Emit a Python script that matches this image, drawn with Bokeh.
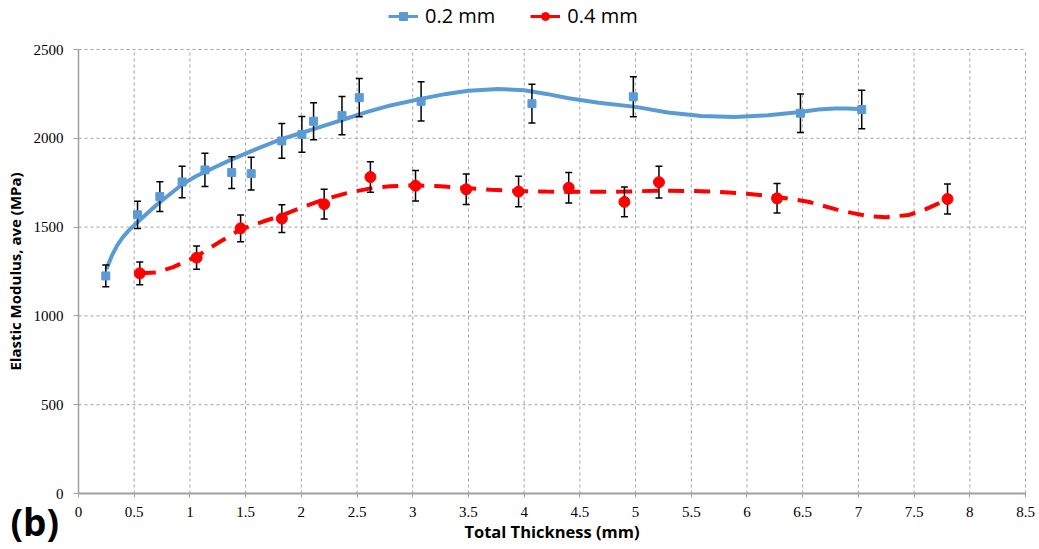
from bokeh.plotting import figure
from bokeh.models import Range1d, Legend, LegendItem, Label, ColumnDataSource, FixedTicker
from bokeh.embed import file_html
from bokeh.resources import INLINE

# ---- data ----
x02 = [0.245, 0.53, 0.73, 0.93, 1.135, 1.375, 1.55, 1.825, 2.005, 2.11, 2.365, 2.52, 3.075, 4.07, 4.98, 6.48, 7.03]
y02 = [1225, 1569, 1672, 1754, 1822, 1807, 1801, 1985, 2022, 2096, 2128, 2229, 2208, 2195, 2234, 2141, 2162]
e02 = [61, 77, 84, 89, 94, 89, 92, 98, 101, 104, 108, 108, 110, 109, 112, 108, 108]

x04 = [0.55, 1.06, 1.455, 1.825, 2.205, 2.62, 3.025, 3.48, 3.95, 4.4, 4.9, 5.21, 6.27, 7.8]
y04 = [1240, 1328, 1493, 1548, 1629, 1782, 1733, 1713, 1700, 1722, 1642, 1753, 1662, 1658]
e04 = [64, 66, 75, 78, 84, 86, 86, 86, 86, 86, 84, 89, 83, 84]

# trend curves
tx02 = [0.25, 0.3, 0.35, 0.4, 0.45, 0.5, 0.6, 0.7, 0.8, 0.93, 1.05, 1.2, 1.37, 1.6, 1.82, 2.0, 2.2, 2.4,
        2.6, 2.8, 3.07, 3.3, 3.5, 3.77, 4.0, 4.2, 4.4, 4.67, 5.0, 5.29, 5.59, 5.89, 6.19, 6.48, 6.64, 6.79, 6.9, 7.03]
ty02 = [1262, 1340, 1400, 1445, 1480, 1510, 1568, 1625, 1675, 1740, 1785, 1830, 1880, 1940, 1995, 2030, 2070, 2110,
        2150, 2185, 2222, 2250, 2268, 2278, 2270, 2250, 2226, 2200, 2177, 2145, 2125, 2120, 2130, 2148, 2162, 2168, 2168, 2163]

tx04 = [0.55, 0.7, 0.85, 1.06, 1.25, 1.45, 1.65, 1.82, 2.0, 2.2, 2.4, 2.62, 2.8, 3.02, 3.25, 3.48, 3.7, 3.95,
        4.2, 4.4, 4.65, 4.9, 5.21, 5.5, 5.74, 6.0, 6.27, 6.55, 6.8, 6.94, 7.1, 7.25, 7.45, 7.6, 7.7, 7.8]
ty04 = [1240, 1245, 1275, 1335, 1410, 1485, 1530, 1565, 1610, 1655, 1690, 1718, 1730, 1735, 1730, 1720, 1710, 1703,
        1700, 1698, 1699, 1700, 1705, 1703, 1699, 1688, 1670, 1643, 1600, 1580, 1560, 1556, 1568, 1600, 1628, 1656]

x_ticks = [0, 0.5, 1, 1.5, 2, 2.5, 3, 3.5, 4, 4.5, 5, 5.5, 6, 6.5, 7, 7.5, 8, 8.5]
y_ticks = [0, 500, 1000, 1500, 2000, 2500]
X_MIN, X_MAX = 0, 8.5
Y_MIN, Y_MAX = 0, 2500

BLUE = "#5B9BD5"
RED = "#FF0000"
GRID = "#A0A0A0"
NAN = float("nan")

# the frame covers the whole canvas; axes are pinned at the data origin so
# the legend and the panel letter can sit outside the data area without clipping
W, H = 1035, 546
FL, FR, FT, FB = 78, 1025, 49, 493          # data-area edges in canvas pixels
px_x = (FR - FL) / (X_MAX - X_MIN)
px_y = (FB - FT) / (Y_MAX - Y_MIN)
x_rng = Range1d(X_MIN - FL / px_x, X_MAX + (W - FR) / px_x)
y_rng = Range1d(Y_MIN - (H - FB) / px_y, Y_MAX + FT / px_y)

p = figure(width=W, height=H, output_backend="svg", toolbar_location=None,
           x_range=x_rng, y_range=y_rng, min_border=0)
p.outline_line_color = None
p.background_fill_color = "white"
p.xgrid.visible = False
p.ygrid.visible = False

# dashed grid bounded to the data area
p.segment(x0=x_ticks[1:], y0=Y_MIN, x1=x_ticks[1:], y1=Y_MAX, line_color=GRID, line_dash="3 3", line_width=1)
p.segment(x0=X_MIN, y0=y_ticks[1:], x1=X_MAX, y1=y_ticks[1:], line_color=GRID, line_dash="3 3", line_width=1)

p.xaxis.ticker = FixedTicker(ticks=x_ticks)
p.yaxis.ticker = FixedTicker(ticks=y_ticks)
p.xaxis.fixed_location = Y_MIN
p.yaxis.fixed_location = X_MIN
p.xaxis.bounds = (X_MIN, X_MAX)
p.yaxis.bounds = (Y_MIN, Y_MAX)

for ax in (p.xaxis, p.yaxis):
    ax.axis_line_color = GRID
    ax.axis_line_width = 1.5
    ax.major_tick_line_color = GRID
    ax.major_tick_out = 5
    ax.major_tick_in = 0
    ax.minor_tick_line_color = None
    ax.major_label_text_font = "Liberation Serif"
    ax.major_label_text_font_size = "15px"
    ax.major_label_text_color = "black"
    ax.axis_label_text_font = "Open Sans"
    ax.axis_label_text_font_style = "bold"
    ax.axis_label_text_font_size = "15px"
    ax.axis_label_text_color = "black"
p.xaxis.axis_label_text_font_size = "16.5px"
p.xaxis.axis_line_width = 2
p.xaxis.major_tick_out = 4
p.xaxis.major_label_standoff = 9
p.yaxis.major_label_standoff = 10
p.xaxis.axis_label = "Total Thickness (mm)"
p.yaxis.axis_label = "Elastic Modulus, ave (MPa)"
p.xaxis.axis_label_standoff = 0
p.yaxis.axis_label_standoff = 6

# trend lines
p.line(tx02, ty02, line_color=BLUE, line_width=4)
p.line(tx04, ty04, line_color=RED, line_width=4, line_dash="16 10")

# error bars
def errbars(xs, ys, es):
    up = [y + e for y, e in zip(ys, es)]
    lo = [y - e for y, e in zip(ys, es)]
    src = ColumnDataSource(dict(x=xs, up=up, lo=lo))
    p.segment(x0="x", y0="lo", x1="x", y1="up", source=src, line_color="black", line_width=1.5)
    p.scatter(x="x", y="up", source=src, marker="dash", size=7, line_color="black", line_width=1.5)
    p.scatter(x="x", y="lo", source=src, marker="dash", size=7, line_color="black", line_width=1.5)

errbars(x02, y02, e02)
errbars(x04, y04, e04)

p.scatter(x02, y02, marker="square", size=8, fill_color=BLUE, line_color=BLUE)
p.scatter(x04, y04, marker="circle", size=11, fill_color=RED, line_color=RED)

# legend keys (not-a-number data: they only draw inside the legend)
lb1 = p.line([NAN], [NAN], line_color=BLUE, line_width=3)
lb2 = p.scatter([NAN], [NAN], marker="square", size=7, fill_color=BLUE, line_color=BLUE)
lr1 = p.line([NAN], [NAN], line_color=RED, line_width=3)
lr2 = p.scatter([NAN], [NAN], marker="circle", size=10, fill_color=RED, line_color=RED)
legend = Legend(items=[LegendItem(label="0.2 mm", renderers=[lb1, lb2]),
                       LegendItem(label="0.4 mm", renderers=[lr1, lr2])],
                orientation="horizontal", location=(388, H - 29),
                glyph_width=30, glyph_height=20, label_standoff=7, spacing=35,
                padding=0, margin=0, border_line_color=None, background_fill_alpha=0,
                label_text_font="Open Sans", label_text_font_size="20px", label_text_color="black")
p.add_layout(legend)

p.add_layout(Label(x=10, y=H - 521, x_units="screen", y_units="screen", text="(b)",
                   text_font="Open Sans", text_font_style="bold", text_font_size="37px",
                   text_color="black", text_baseline="middle", text_align="left"))

open("out.html", "w").write(file_html(p, INLINE))
